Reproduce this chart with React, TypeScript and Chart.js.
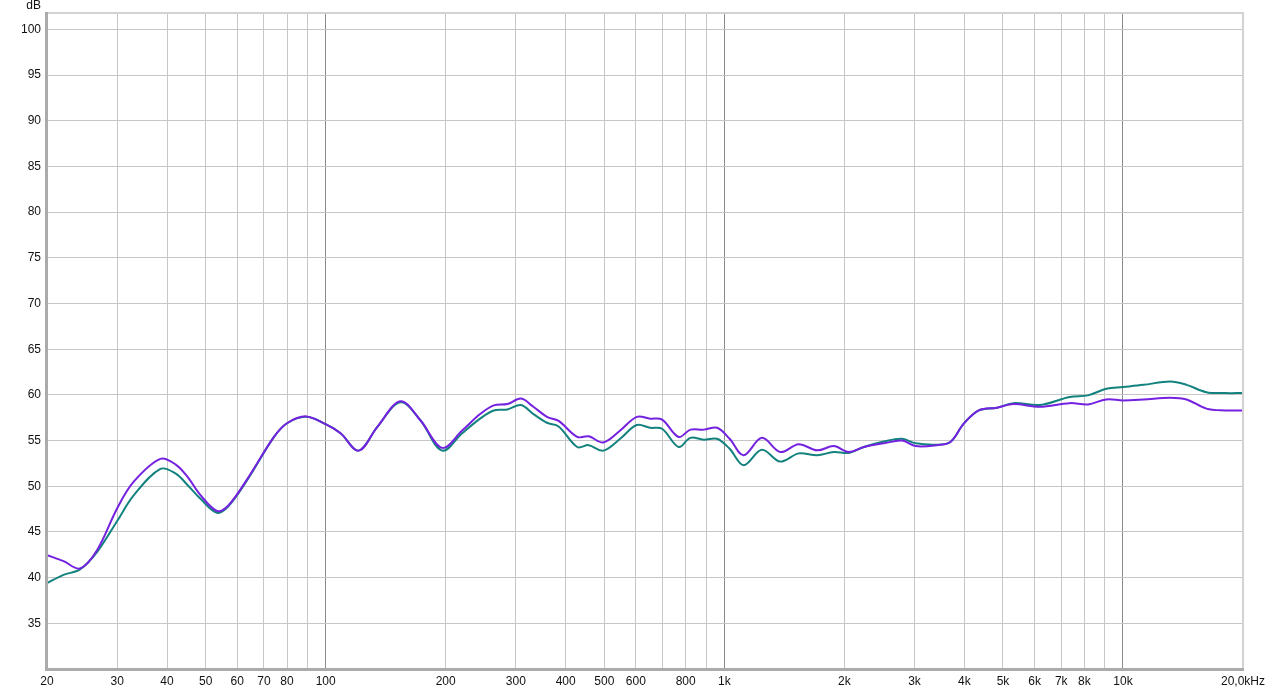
import React, { useEffect, useRef } from 'react';
import { Chart, registerables } from 'chart.js';

Chart.register(...registerables);

const FREQS = [20, 22, 24.2, 26.7, 30, 33, 38.5, 42, 44.9, 48.6, 53.4, 57, 63.4, 74.2, 80, 89.3, 100, 109, 121, 134.8, 154, 173, 196, 220, 244, 264, 285.6, 309, 332, 359, 384, 427.6, 457, 497, 548, 603, 652, 698, 768, 822, 888, 959, 1031, 1118, 1242, 1382, 1536, 1710, 1882, 2052, 2239, 2512, 2793, 3020, 3408, 3690, 3986, 4348, 4832, 5312, 6192, 7352, 8170, 9080, 10000, 11260, 13140, 14440, 16180, 18000, 20000];

const PURPLE = [42.46, 41.8, 41.0, 43.0, 47.6, 50.5, 53.0, 52.4, 51.1, 49.0, 47.3, 47.9, 50.7, 55.4, 56.9, 57.65, 56.8, 55.8, 53.9, 56.5, 59.3, 57.2, 54.2, 56.1, 57.9, 58.85, 59.0, 59.6, 58.7, 57.6, 57.15, 55.4, 55.47, 54.8, 56.1, 57.6, 57.4, 57.3, 55.4, 56.2, 56.2, 56.4, 55.2, 53.4, 55.3, 53.75, 54.6, 53.93, 54.4, 53.75, 54.3, 54.7, 55.0, 54.4, 54.5, 54.85, 56.85, 58.3, 58.6, 59.0, 58.7, 59.1, 58.96, 59.5, 59.4, 59.5, 59.7, 59.5, 58.5, 58.3, 58.3];

const TEAL = [39.4, 40.3, 40.9, 42.8, 46.2, 49.0, 51.9, 51.4, 50.2, 48.6, 47.1, 47.8, 50.6, 55.4, 56.9, 57.6, 56.8, 55.8, 53.9, 56.5, 59.2, 57.2, 53.9, 55.8, 57.4, 58.3, 58.4, 58.9, 57.9, 56.95, 56.55, 54.3, 54.5, 53.9, 55.2, 56.7, 56.4, 56.3, 54.3, 55.3, 55.1, 55.2, 54.1, 52.3, 54.0, 52.7, 53.6, 53.4, 53.75, 53.65, 54.3, 54.9, 55.2, 54.7, 54.55, 54.85, 56.85, 58.3, 58.6, 59.1, 58.9, 59.77, 59.95, 60.67, 60.86, 61.1, 61.47, 61.1, 60.3, 60.2, 60.2];

const X_TICKS = [20, 30, 40, 50, 60, 70, 80, 90, 100, 200, 300, 400, 500, 600, 700, 800, 900, 1000, 2000, 3000, 4000, 5000, 6000, 7000, 8000, 9000, 10000, 20000];
const X_LABELS: Record<number, string> = {
  20: '20', 30: '30', 40: '40', 50: '50', 60: '60', 70: '70', 80: '80',
  100: '100', 200: '200', 300: '300', 400: '400', 500: '500', 600: '600', 800: '800',
  1000: '1k', 2000: '2k', 3000: '3k', 4000: '4k', 5000: '5k', 6000: '6k', 7000: '7k', 8000: '8k',
  10000: '10k', 20000: '20,0kHz',
};
const DECADES = [100, 1000, 10000];
const Y_TICKS = [30, 35, 40, 45, 50, 55, 60, 65, 70, 75, 80, 85, 90, 95, 100];
const Y_UNIT = 'dB';

const FONT = '"Liberation Sans", Arial, sans-serif';

const framePlugin = {
  id: 'frame',
  afterDraw(chart: any) {
    const { ctx, chartArea } = chart;
    const { left, top, right, bottom } = chartArea;
    ctx.save();
    ctx.fillStyle = '#d2d2d2';
    ctx.fillRect(left, top - 1, right - left + 1, 2);
    ctx.fillRect(right - 1, top - 1, 2, bottom - top + 2);
    ctx.fillStyle = '#ababab';
    ctx.fillRect(left - 2, top - 1, 3, bottom - top + 3);
    ctx.fillRect(left - 2, bottom - 1, right - left + 3, 3);
    ctx.fillStyle = '#111';
    ctx.font = '12px ' + FONT;
    ctx.textAlign = 'right';
    ctx.textBaseline = 'middle';
    ctx.fillText(Y_UNIT, 41, 6);
    ctx.restore();
  },
};

export default function App() {
  const ref = useRef<HTMLCanvasElement | null>(null);
  useEffect(() => {
    document.body.style.margin = '0';
    const canvas = ref.current!;
    const chart = new Chart(canvas, {
      type: 'line',
      data: {
        datasets: [
          {
            label: 'B',
            data: FREQS.map((f, i) => ({ x: f, y: PURPLE[i] })),
            borderColor: '#7421e0',
            borderWidth: 2,
            pointRadius: 0,
            tension: 0.35,
            fill: false,
          },
          {
            label: 'A',
            data: FREQS.map((f, i) => ({ x: f, y: TEAL[i] })),
            borderColor: '#13827f',
            borderWidth: 2,
            pointRadius: 0,
            tension: 0.35,
            fill: false,
          },
        ],
      },
      options: {
        responsive: false,
        animation: false,
        events: [],
        layout: { padding: { top: 13, right: 22, left: 0, bottom: 0 } },
        plugins: { legend: { display: false }, tooltip: { enabled: false } },
        scales: {
          x: {
            type: 'logarithmic',
            min: 20,
            max: 20000,
            afterBuildTicks: (s: any) => {
              s.ticks = X_TICKS.map((v) => ({ value: v }));
            },
            afterFit: (s: any) => {
              s.height = 21;
              s.paddingRight = 0;
              s.paddingLeft = 0;
            },
            ticks: {
              autoSkip: false,
              maxRotation: 0,
              minRotation: 0,
              padding: 5,
              color: '#111',
              font: { family: FONT, size: 12 },
              callback: (v: any) => X_LABELS[Number(v)] ?? '',
            },
            grid: {
              drawTicks: false,
              lineWidth: 1,
              color: (c: any) => (c.tick && DECADES.includes(c.tick.value) ? '#8a8a8a' : '#c6c6c6'),
            },
            border: { display: false },
          },
          y: {
            type: 'linear',
            min: 30,
            max: 101.8,
            afterBuildTicks: (s: any) => {
              s.ticks = Y_TICKS.map((v) => ({ value: v }));
            },
            afterFit: (s: any) => {
              s.width = 47;
              s.paddingTop = 0;
              s.paddingBottom = 0;
            },
            ticks: {
              padding: 6,
              color: '#111',
              font: { family: FONT, size: 12 },
              callback: (v: any) => (Number(v) === 30 ? '' : String(v)),
            },
            grid: { drawTicks: false, lineWidth: 1, color: '#c6c6c6' },
            border: { display: false },
          },
        },
      },
      plugins: [framePlugin],
    } as any);
    return () => chart.destroy();
  }, []);
  return (
    <div style={{ position: 'fixed', left: 0, top: 0, width: 1265, height: 690, background: '#fff' }}>
      <canvas ref={ref} width={1265} height={690} />
    </div>
  );
}
